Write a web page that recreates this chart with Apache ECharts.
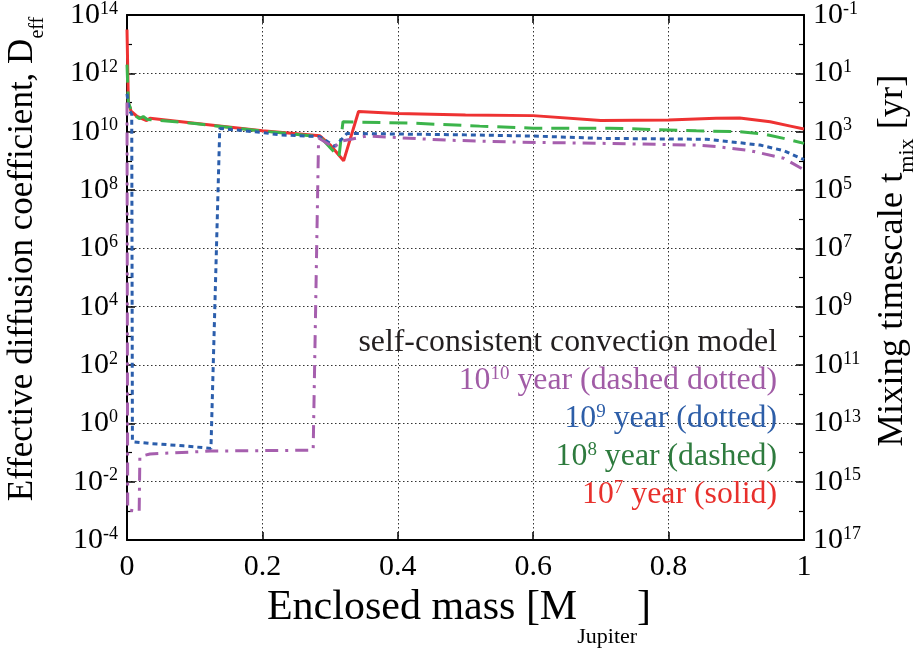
<!DOCTYPE html>
<html>
<head>
<meta charset="utf-8">
<script src="https://cdn.jsdelivr.net/npm/echarts@6/dist/echarts.min.js"></script>
<style>html,body{margin:0;padding:0;background:#fff}#c{width:917px;height:658px}</style>
</head>
<body>
<div id="c"></div>
<script>
// ---- data (mass in Jupiter masses, D_eff as log10 exponent) ----
const massTicks = [0, 0.2, 0.4, 0.6, 0.8, 1];
const dLogTicks = [-4, -2, 0, 2, 4, 6, 8, 10, 12, 14];
const tmixLogTicks = [17, 15, 13, 11, 9, 7, 5, 3, 1, -1];

const solidMass = [0, 0.002, 0.006, 0.015, 0.029, 0.034, 0.1, 0.2, 0.285, 0.3, 0.32, 0.342, 0.4, 0.5, 0.6, 0.7, 0.8, 0.87, 0.905, 0.95, 0.98, 1.0];
const solidLogD = [13.5, 11.0, 10.7, 10.52, 10.38, 10.46, 10.29, 10.03, 9.86, 9.55, 9.0, 10.69, 10.62, 10.57, 10.55, 10.38, 10.4, 10.46, 10.47, 10.34, 10.19, 10.09];

const dashedMass = [0, 0.002, 0.008, 0.018, 0.024, 0.03, 0.1, 0.2, 0.28, 0.29, 0.313, 0.319, 0.423, 0.521, 0.6, 0.713, 0.841, 0.905, 0.94, 0.97, 1.0];
const dashedLogD = [12.3, 11.0, 10.62, 10.45, 10.52, 10.42, 10.28, 10.02, 9.84, 9.71, 9.12, 10.34, 10.29, 10.19, 10.12, 10.12, 10.03, 10.0, 9.92, 9.77, 9.6];

const dottedMass = [0, 0.003, 0.007, 0.008, 0.034, 0.083, 0.124, 0.137, 0.2, 0.226, 0.285, 0.307, 0.325, 0.4, 0.5, 0.6, 0.7, 0.8, 0.856, 0.905, 0.935, 0.97, 1.0];
const dottedLogD = [11.3, 10.75, 10.6, -0.63, -0.69, -0.77, -0.86, 10.11, 9.97, 9.89, 9.83, 9.49, 9.94, 9.92, 9.89, 9.85, 9.77, 9.75, 9.74, 9.62, 9.54, 9.35, 9.04];

const dashDotMass = [0, 0.001, 0.018, 0.019, 0.034, 0.124, 0.275, 0.283, 0.3, 0.305, 0.317, 0.354, 0.472, 0.58, 0.7, 0.84, 0.87, 0.92, 0.97, 1.0];
const dashDotLogD = [11.0, -2.97, -3.03, -1.14, -1.05, -0.95, -0.92, 9.78, 9.54, 9.45, 9.68, 9.85, 9.71, 9.64, 9.6, 9.54, 9.49, 9.35, 9.09, 8.69];

const FONT = '"Liberation Serif", "Times New Roman", serif';
const pair = (xs, ys) => xs.map((x, i) => [x, ys[i]]);

const tickRich = {
  b: { fontFamily: FONT, fontSize: 30, lineHeight: 30, color: '#000', verticalAlign: 'top' },
  e: { fontFamily: FONT, fontSize: 18, lineHeight: 18, color: '#000', verticalAlign: 'top' }
};
const frame = () => ({ show: true, onZero: false, lineStyle: { color: '#000', width: 2 } });
const grid = () => ({ show: true, lineStyle: { color: '#333', type: [1.5, 2.5], width: 1 } });
const ticks = () => ({ show: true, inside: true, length: 8, lineStyle: { color: '#000', width: 1.5 } });

const chart = echarts.init(document.getElementById('c'), null, { renderer: 'canvas' });

function legendLine(y, text, color) {
  return {
    type: 'text', x: 777, y: y, z: 100,
    style: {
      text: text, align: 'right', verticalAlign: 'top',
      rich: {
        m: { fontFamily: FONT, fontSize: 31.8, lineHeight: 31.8, fill: color, verticalAlign: 'top' },
        s: { fontFamily: FONT, fontSize: 19, lineHeight: 19, fill: color, verticalAlign: 'top' }
      }
    }
  };
}

const option = {
  animation: false,
  backgroundColor: '#fff',
  textStyle: { fontFamily: FONT },
  grid: { left: 127, right: 113, top: 15, bottom: 118 },
  xAxis: [
    {
      type: 'value', min: 0, max: 1, interval: 0.2, position: 'bottom',
      axisLine: frame(),
      axisTick: ticks(),
      axisLabel: { fontFamily: FONT, fontSize: 30, color: '#000', margin: 12,
        formatter: v => String(massTicks[massTicks.findIndex(t => Math.abs(t - v) < 1e-6)]) },
      splitLine: grid()
    },
    {
      type: 'value', min: 0, max: 1, interval: 0.2, position: 'top',
      axisLine: frame(),
      axisTick: ticks(),
      axisLabel: { show: false }, splitLine: { show: false }
    }
  ],
  yAxis: [
    {
      type: 'value', min: -4, max: 14, interval: 2, position: 'left',
      axisLine: frame(),
      axisTick: ticks(),
      minorTick: { show: true, splitNumber: 2, length: 5, lineStyle: { color: '#000', width: 1.2 } },
      axisLabel: { margin: 9, fontFamily: FONT, fontSize: 30, color: '#000', rich: tickRich,
        formatter: v => '{b|10}{e|' + dLogTicks[dLogTicks.indexOf(Math.round(v))] + '}' },
      splitLine: grid()
    },
    {
      type: 'value', min: -4, max: 14, interval: 2, position: 'right',
      axisLine: frame(),
      axisTick: ticks(),
      minorTick: { show: true, splitNumber: 2, length: 5, lineStyle: { color: '#000', width: 1.2 } },
      axisLabel: { margin: 9, fontFamily: FONT, fontSize: 30, color: '#000', rich: tickRich,
        formatter: v => '{b|10}{e|' + tmixLogTicks[dLogTicks.indexOf(Math.round(v))] + '}' },
      splitLine: { show: false }
    }
  ],
  series: [
    { name: '1e7', type: 'line', data: pair(solidMass, solidLogD), showSymbol: false, symbol: 'none',
      lineStyle: { color: '#ee3232', width: 3, type: 'solid' }, z: 2 },
    { name: '1e8', type: 'line', data: pair(dashedMass, dashedLogD), showSymbol: false, symbol: 'none',
      lineStyle: { color: '#3cb44b', width: 3, type: [18, 9] }, z: 3 },
    { name: '1e9', type: 'line', data: pair(dottedMass, dottedLogD), showSymbol: false, symbol: 'none',
      lineStyle: { color: '#2b5eac', width: 3, type: [5, 4] }, z: 4 },
    { name: '1e10', type: 'line', data: pair(dashDotMass, dashDotLogD), showSymbol: false, symbol: 'none',
      lineStyle: { color: '#a65fae', width: 3, type: [13, 7, 3, 7] }, z: 5 }
  ],
  graphic: [
    {
      type: 'text', x: 5.7, y: 259, rotation: Math.PI / 2,
      style: {
        text: '{a|Effective diffusion coefficient, D}{s|eff}', align: 'center', verticalAlign: 'top',
        rich: {
          a: { fontFamily: FONT, fontSize: 35, lineHeight: 35, fill: '#000', verticalAlign: 'top' },
          s: { fontFamily: FONT, fontSize: 20, lineHeight: 20, padding: [22.5, 0, 0, 0], fill: '#000', verticalAlign: 'top' }
        }
      }
    },
    {
      type: 'text', x: 874.4, y: 260.5, rotation: Math.PI / 2,
      style: {
        text: '{a|Mixing timescale t}{s|mix}{a| [yr]}', align: 'center', verticalAlign: 'top',
        rich: {
          a: { fontFamily: FONT, fontSize: 36.5, lineHeight: 36.5, fill: '#000', verticalAlign: 'top' },
          s: { fontFamily: FONT, fontSize: 22, lineHeight: 22, padding: [22, 0, 0, 0], fill: '#000', verticalAlign: 'top' }
        }
      }
    },
    {
      type: 'text', x: 459, y: 587,
      style: {
        text: '{a|Enclosed mass [M}{s|Jupiter}{a|]}', align: 'center', verticalAlign: 'top',
        rich: {
          a: { fontFamily: FONT, fontSize: 42, lineHeight: 42, fill: '#000', verticalAlign: 'top' },
          s: { fontFamily: FONT, fontSize: 22, lineHeight: 22, padding: [39, 0, 0, 0], fill: '#000', verticalAlign: 'top' }
        }
      }
    },
    legendLine(326.3, '{m|self-consistent convection model}', '#231f20'),
    legendLine(364.7, '{m|10}{s|10}{m| year (dashed dotted)}', '#a15ca6'),
    legendLine(402.3, '{m|10}{s|9}{m| year (dotted)}', '#2d5ea8'),
    legendLine(440.7, '{m|10}{s|8}{m| year (dashed)}', '#2e7b3e'),
    legendLine(478.3, '{m|10}{s|7}{m| year (solid)}', '#e8302c')
  ]
};
chart.setOption(option);
</script>
</body>
</html>
